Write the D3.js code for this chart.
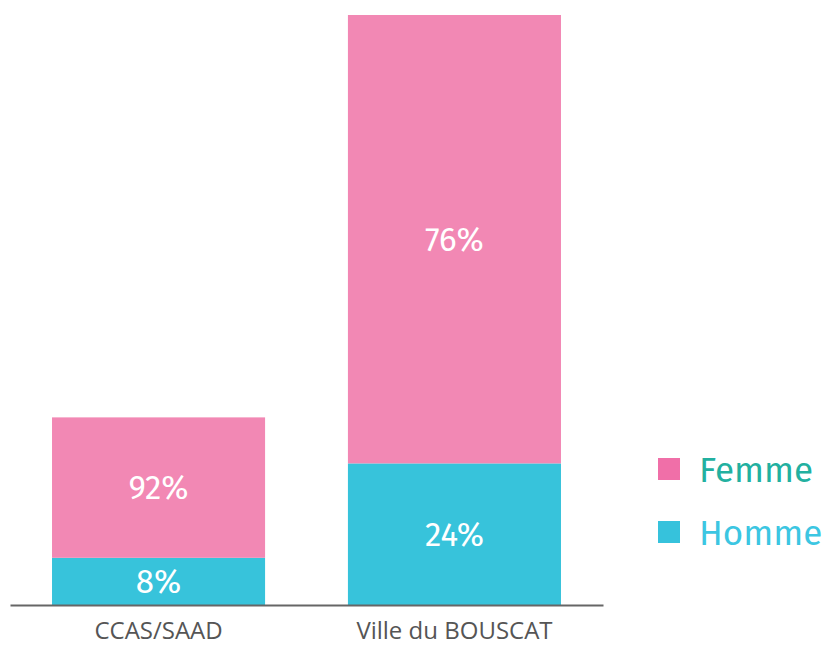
<!DOCTYPE html>
<html>
<head>
<meta charset="utf-8">
<script src="https://cdn.jsdelivr.net/npm/d3@7"></script>
<style>
  body { margin: 0; background: #fff; }
  svg { display: block; font-family: "Fira Sans", "Open Sans", sans-serif; }
</style>
</head>
<body>
<div id="chart"></div>
<script>
// Chart data
const categories = ["CCAS/SAAD", "Ville du BOUSCAT"];
const series = ["Homme", "Femme"];
const hommeValues = [8, 24];
const femmeValues = [23.8, 76];
const hommeLabels = ["8%", "24%"];
const femmeLabels = ["92%", "76%"];
const legendOrder = ["Femme", "Homme"];

const width = 824, height = 647;

const svg = d3.select("#chart")
    .append("svg")
    .attr("width", width)
    .attr("height", height);

// Scales
const x = d3.scaleBand()
    .domain(categories)
    .range([10, 603])
    .paddingInner(0.28)
    .paddingOuter(0.142);

const y = d3.scaleLinear()
    .domain([0, 100])
    .range([605, 15]);

const color = d3.scaleOrdinal()
    .domain(series)
    .range(["#37c3db", "#f288b4"]);

// Build stack table from arrays
const table = categories.map((c, i) => ({
    category: c,
    Homme: hommeValues[i],
    Femme: femmeValues[i],
    labels: { Homme: hommeLabels[i], Femme: femmeLabels[i] }
}));

const stacked = d3.stack().keys(series)(table);

const layer = svg.selectAll("g.layer")
    .data(stacked)
    .enter()
    .append("g")
    .attr("class", "layer")
    .attr("fill", d => color(d.key));

layer.selectAll("rect")
    .data(d => d)
    .enter()
    .append("rect")
    .attr("x", d => x(d.data.category))
    .attr("y", d => y(d[1]))
    .attr("width", x.bandwidth())
    .attr("height", d => y(d[0]) - y(d[1]));

// Value labels
stacked.forEach(s => {
    svg.selectAll("text.val-" + s.key)
        .data(s)
        .enter()
        .append("text")
        .attr("x", d => x(d.data.category) + x.bandwidth() / 2)
        .attr("y", d => (y(d[0]) + y(d[1])) / 2)
        .attr("dy", "0.36em")
        .attr("text-anchor", "middle")
        .attr("fill", "#fff")
        .style("font-size", "33px")
        .text(d => d.data.labels[s.key]);
});

// X axis
const xAxis = svg.append("g")
    .attr("transform", "translate(0," + y(0) + ")")
    .call(d3.axisBottom(x).tickSize(0).tickSizeOuter(0).tickPadding(17));

xAxis.select(".domain")
    .attr("stroke", "#666")
    .attr("stroke-width", 2);

xAxis.selectAll("text")
    .attr("fill", "#555")
    .style("font-size", "24px")
    .style("font-family", "\"Open Sans\", sans-serif");

// Legend
const legendColor = { Femme: "#f06fa8", Homme: "#36c2dc" };
const legendText = { Femme: "#22b0a0", Homme: "#3cc6e2" };

const legend = svg.selectAll("g.legend")
    .data(legendOrder)
    .enter()
    .append("g")
    .attr("class", "legend")
    .attr("transform", (d, i) => "translate(658," + (458 + i * 63) + ")");

legend.append("rect")
    .attr("width", 22)
    .attr("height", 22)
    .attr("fill", d => legendColor[d]);

legend.append("text")
    .attr("x", 41)
    .attr("y", 11)
    .attr("dy", "0.36em")
    .attr("fill", d => legendText[d])
    .style("font-size", "35px")
    .text(d => d);
</script>
</body>
</html>
